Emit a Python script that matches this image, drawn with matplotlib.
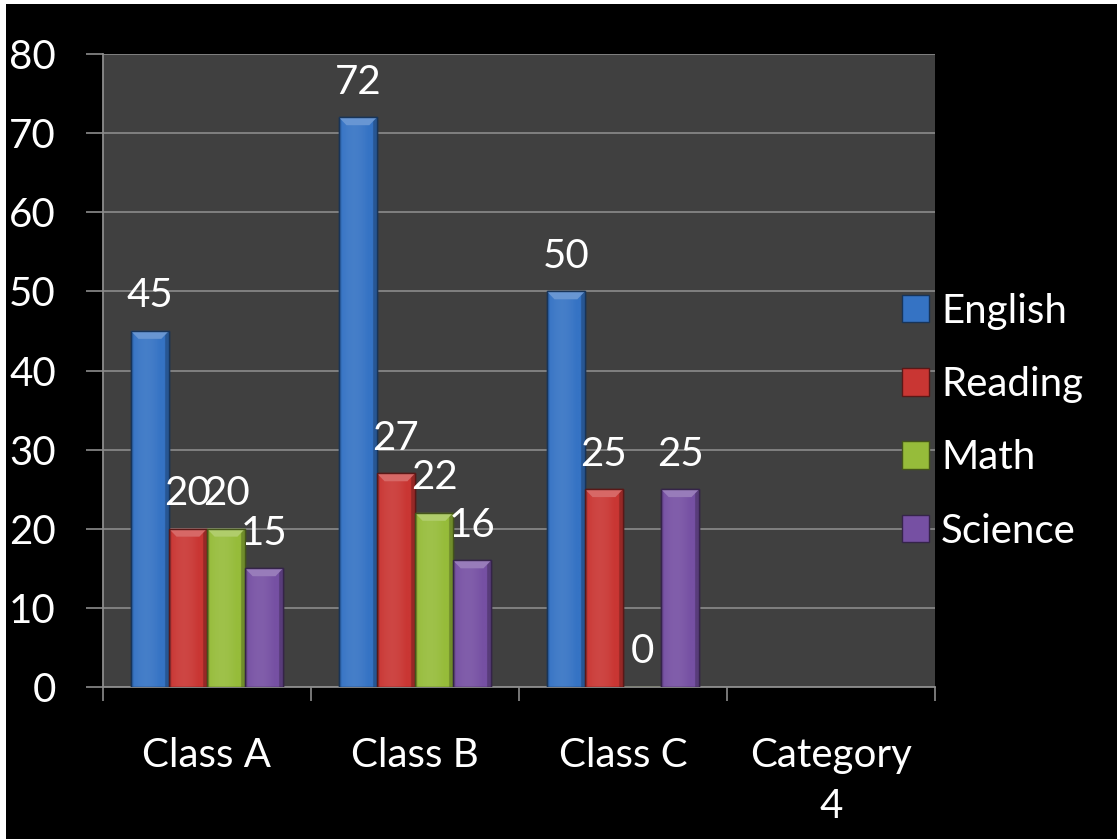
import numpy as np
import matplotlib.pyplot as plt
from matplotlib.patches import Polygon, Rectangle
from matplotlib.colors import to_rgb

plt.rcParams['font.family'] = ['Lato', 'DejaVu Sans']

categories = ['Class A', 'Class B', 'Class C', 'Category\n4']
series = ['English', 'Reading', 'Math', 'Science']
english = [45, 72, 50, np.nan]
reading = [20, 27, 25, np.nan]
math_ = [20, 22, 0, np.nan]
science = [15, 16, 25, np.nan]
values = [english, reading, math_, science]
colors = ['#3573c4', '#c93633', '#96bc3a', '#7650a3']

fig = plt.figure(figsize=(11.17, 8.39), dpi=100, facecolor='white')
# black backdrop with a thin white rim on top and left
fig.patches.append(Rectangle((6 / 1117, 0), 1, 1 - 4 / 839, transform=fig.transFigure,
                             facecolor='black', edgecolor='none', zorder=-10))
ax = fig.add_axes([103 / 1117, 152 / 839, 832 / 1117, 633 / 839])
ax.set_facecolor('#404040')

n = len(series)
bw = 0.183
x = np.arange(len(categories))
fs = 29

def shade(c, f):
    r = np.array(to_rgb(c))
    if f > 0:
        return tuple(r + (1 - r) * f)
    return tuple(r * (1 + f))

for i, (name, vals, col) in enumerate(zip(series, values, colors)):
    pos = x - 2 * bw + (i + 0.5) * bw
    bars = ax.bar(pos, vals, width=bw, color=col, edgecolor=shade(col, -0.55),
                  linewidth=1, label=name, zorder=3)
    for b, v in zip(bars, vals):
        if np.isnan(v):
            continue
        x0, w, h = b.get_x(), b.get_width(), b.get_height()
        # horizontal gradient for a rounded look
        g = np.linspace(0, 1, 64)
        prof = 0.08 * np.sin(np.pi * np.clip(g * 1.3, 0, 1)) - 0.25 * (g > 0.88) - 0.15 * (g < 0.06)
        img = np.array([[shade(col, p) for p in prof]])
        if h > 0:
            im = ax.imshow(img, extent=(x0, x0 + w, 0, h), aspect='auto', zorder=3.5,
                           interpolation='bilinear')
            im.set_clip_path(b)
            bev = 1.0
            top = Polygon([(x0, h), (x0 + w, h), (x0 + w - w * 0.2, h - bev),
                           (x0 + w * 0.2, h - bev)], closed=True,
                          facecolor=shade(col, 0.25), edgecolor='none', zorder=3.6)
            ax.add_patch(top)
            ax.add_patch(Rectangle((x0, 0), w, h, facecolor='none',
                                   edgecolor=shade(col, -0.55), lw=1, zorder=3.7))
        ax.annotate(f'{int(v)}', (x0 + w / 2, h), xytext=(0, 12),
                    textcoords='offset points', ha='center', va='bottom',
                    color='white', fontsize=fs, zorder=5)

ax.set_xlim(-0.5, len(categories) - 0.5)
ax.set_ylim(0, 80)
ax.set_yticks(range(0, 81, 10))
ax.set_xticks(np.arange(-0.5, len(categories), 1), minor=False)
ax.set_xticklabels([''] * (len(categories) + 1))
ax.set_xticks(x, minor=True)
ax.set_xticklabels(categories, minor=True, fontsize=fs, color='white',
                   linespacing=1.45, va='top')
ax.tick_params(axis='x', which='minor', length=0, pad=36)
ax.tick_params(axis='x', which='major', length=10, width=1.2, color='#8c8c8c',
               direction='out')
ax.tick_params(axis='y', length=12, width=1.2, color='#8c8c8c', direction='out',
               labelsize=fs, labelcolor='white', pad=22)
ax.grid(axis='y', color='#858585', linewidth=1.3, zorder=1)
ax.set_axisbelow(True)
for s in ['top', 'right']:
    ax.spines[s].set_visible(False)
for s in ['left', 'bottom']:
    ax.spines[s].set_color('#8c8c8c')
    ax.spines[s].set_linewidth(1.3)

leg = ax.legend(loc='center left', bbox_to_anchor=(0.9405, 0.42), frameon=False,
                fontsize=fs, labelcolor='white', handlelength=0.68, handleheight=0.68,
                handletextpad=0.3, labelspacing=0.9, borderaxespad=0)
leg.set_zorder(6)

fig.savefig('out.png', dpi=100, facecolor=fig.get_facecolor())
